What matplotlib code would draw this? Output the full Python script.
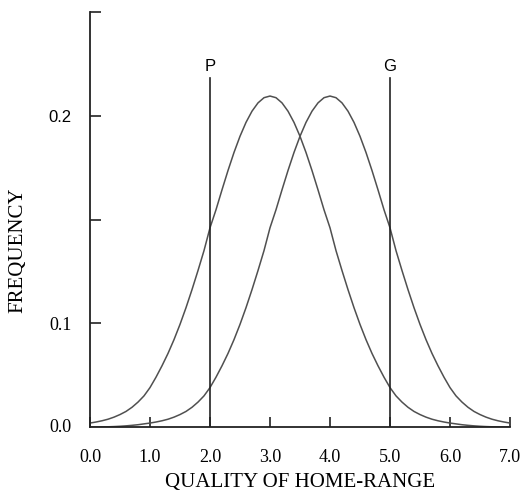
#!/usr/bin/env python3
"""
Frequency of home-range quality for two groups (P and G thresholds)
"""
import matplotlib
matplotlib.use('Agg')
import matplotlib.pyplot as plt
import numpy as np

# quality of home-range, read every 0.1
quality = np.round(np.arange(0, 7.001, 0.1), 1)

# left curve (centred on 3.0)
freq_low = [
    0.0038, 0.0048, 0.006, 0.0075, 0.0095, 0.012, 0.015, 0.019, 0.024, 0.030,
    0.038, 0.048, 0.059, 0.0709, 0.0842, 0.0989, 0.1075, 0.1162, 0.1254, 0.135,
    0.146, 0.1547, 0.1643, 0.1736, 0.1823, 0.1901, 0.1968, 0.2022, 0.2062, 0.2087,
    0.2095,
    0.2087, 0.2062, 0.2022, 0.1968, 0.1901, 0.1823, 0.1736, 0.1643, 0.1547, 0.146,
    0.135, 0.1254, 0.1162, 0.1075, 0.0989, 0.0842, 0.0709, 0.059, 0.048, 0.038,
    0.030, 0.024, 0.019, 0.015, 0.012, 0.0095, 0.0075, 0.006, 0.0048, 0.0038,
    0.003, 0.0022, 0.0016, 0.0011, 0.0007, 0.0004, 0.0002, 0.0001, 0.0, 0.0,
]
# right curve (centred on 4.0)
freq_high = [
    0.0, 0.0, 0.0001, 0.0002, 0.0004, 0.0007, 0.0011, 0.0016, 0.0022, 0.003,
    0.0038, 0.0048, 0.006, 0.0075, 0.0095, 0.012, 0.015, 0.019, 0.024, 0.030,
    0.038, 0.048, 0.059, 0.0709, 0.0842, 0.0989, 0.1075, 0.1162, 0.1254, 0.135,
    0.146, 0.1547, 0.1643, 0.1736, 0.1823, 0.1901, 0.1968, 0.2022, 0.2062, 0.2087,
    0.2095,
    0.2087, 0.2062, 0.2022, 0.1968, 0.1901, 0.1823, 0.1736, 0.1643, 0.1547, 0.146,
    0.135, 0.1254, 0.1162, 0.1075, 0.0989, 0.0842, 0.0709, 0.059, 0.048, 0.038,
    0.030, 0.024, 0.019, 0.015, 0.012, 0.0095, 0.0075, 0.006, 0.0048, 0.0038,
]

# threshold lines
thresholds = [2.0, 5.0]
threshold_names = ['P', 'G']
threshold_top = 0.218

x_ticks = [0, 1, 2, 3, 4, 5, 6, 7]
y_ticks = [0.1, 0.15, 0.2, 0.25]
y_ticklabels = ['0.1', '', '0.2', '']

# the printed frequency axis is not linear: 0-0.1 takes one step, 0.1-0.2 two
def fwd(y):
    y = np.asarray(y, dtype=float)
    return np.where(y <= 0.1, y * 10, 1 + (y - 0.1) * 20)

def inv(t):
    t = np.asarray(t, dtype=float)
    return np.where(t <= 1, t / 10, 0.1 + (t - 1) / 20)

fig = plt.figure(figsize=(5.21, 4.95), dpi=100)
ax = fig.add_axes([90 / 521, 68 / 495, 420 / 521, 415 / 495])
ax.set_yscale('function', functions=(fwd, inv))

ax.plot(quality, freq_low, color='#505050', linewidth=1.1)
ax.plot(quality, freq_high, color='#505050', linewidth=1.1)

for xv, name in zip(thresholds, threshold_names):
    ax.plot([xv, xv], [0, threshold_top], color='#222222', linewidth=1.2)
    ax.text(xv, threshold_top + 0.002, name, ha='center', va='bottom',
            fontsize=12, family='Liberation Sans')

ax.set_xlim(0, 7)
ax.set_ylim(0, 0.25)

for side in ['top', 'right']:
    ax.spines[side].set_visible(False)
for side in ['left', 'bottom']:
    ax.spines[side].set_linewidth(1.3)
    ax.spines[side].set_color('#222222')

ax.set_xticks(x_ticks)
ax.set_xticklabels([f'{v:.1f}' for v in x_ticks], family='Liberation Serif',
                   fontsize=13)
ax.set_yticks(y_ticks)
ax.set_yticklabels(y_ticklabels, family='Liberation Serif', fontsize=13)
ax.yaxis.get_ticklabels()[2].set_family('Liberation Sans')
ax.yaxis.get_ticklabels()[2].set_fontsize(12)
ax.yaxis.set_minor_locator(plt.NullLocator())
ax.tick_params(axis='x', direction='in', length=7, width=1.2, pad=16,
               color='#222222')
ax.tick_params(axis='y', direction='in', length=8, width=1.2, pad=13,
               color='#222222')

# the origin label sits on its own so that no tick is drawn at y=0
ax.text(-0.3, 0, '0.0', ha='right', va='center', fontsize=13,
        family='Liberation Serif')

ax.set_xlabel('QUALITY OF HOME-RANGE', family='Liberation Serif',
              fontsize=15, labelpad=5)
fig.text(18 / 521, 1 - 250 / 495, 'FREQUENCY', rotation=90, ha='center',
         va='center', family='Liberation Serif', fontsize=15)

plt.savefig('out.png', dpi=100)
